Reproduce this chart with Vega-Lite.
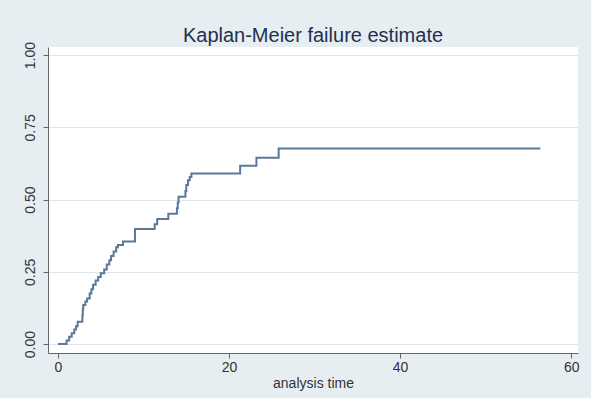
{
  "$schema": "https://vega.github.io/schema/vega-lite/v6.json",
  "autosize": {"type": "none"},
  "width": 530,
  "height": 306,
  "padding": {"left": 48, "top": 47, "right": 13, "bottom": 45},
  "background": "#e7eef2",
  "config": {
    "view": {"fill": "white", "stroke": null},
    "font": "Liberation Sans"
  },
  "title": {
    "text": "Kaplan-Meier failure estimate",
    "fontSize": 20,
    "fontWeight": "normal",
    "color": "#1e3050",
    "font": "Liberation Sans",
    "anchor": "middle",
    "offset": -5
  },
  "data": {
    "values": [
      {"t": 0, "F": 0},
      {"t": 1.0, "F": 0.012},
      {"t": 1.3, "F": 0.025},
      {"t": 1.6, "F": 0.037},
      {"t": 1.9, "F": 0.05},
      {"t": 2.1, "F": 0.062},
      {"t": 2.3, "F": 0.077},
      {"t": 2.85, "F": 0.1},
      {"t": 2.9, "F": 0.12},
      {"t": 2.95, "F": 0.135},
      {"t": 3.2, "F": 0.147},
      {"t": 3.4, "F": 0.158},
      {"t": 3.7, "F": 0.175},
      {"t": 3.9, "F": 0.19},
      {"t": 4.1, "F": 0.205},
      {"t": 4.4, "F": 0.22},
      {"t": 4.7, "F": 0.232},
      {"t": 5.0, "F": 0.245},
      {"t": 5.4, "F": 0.258},
      {"t": 5.7, "F": 0.275},
      {"t": 6.0, "F": 0.29},
      {"t": 6.2, "F": 0.305},
      {"t": 6.5, "F": 0.32},
      {"t": 6.8, "F": 0.335},
      {"t": 7.0, "F": 0.343},
      {"t": 7.6, "F": 0.355},
      {"t": 9.0, "F": 0.398},
      {"t": 11.3, "F": 0.415},
      {"t": 11.6, "F": 0.433},
      {"t": 12.9, "F": 0.451},
      {"t": 13.9, "F": 0.47},
      {"t": 14.0, "F": 0.49},
      {"t": 14.1, "F": 0.51},
      {"t": 14.9, "F": 0.53},
      {"t": 15.0, "F": 0.55},
      {"t": 15.2, "F": 0.567},
      {"t": 15.4, "F": 0.578},
      {"t": 15.6, "F": 0.59},
      {"t": 21.3, "F": 0.617},
      {"t": 23.2, "F": 0.645},
      {"t": 25.8, "F": 0.677},
      {"t": 56.4, "F": 0.677}
    ]
  },
  "mark": {"type": "line", "interpolate": "step-after", "color": "#5a7897", "strokeWidth": 2},
  "encoding": {
    "x": {
      "field": "t",
      "type": "quantitative",
      "scale": {"domain": [-1.17, 60.8], "nice": false, "zero": false},
      "axis": {
        "title": "analysis time",
        "values": [0, 20, 40, 60],
        "grid": false,
        "domainColor": "#666666",
        "tickColor": "#666666",
        "tickSize": 5,
        "labelFontSize": 14,
        "labelColor": "#333333",
        "labelPadding": 2,
        "labelFlush": false,
        "titleFontSize": 14,
        "titleFontWeight": "normal",
        "titleColor": "#333333",
        "titlePadding": 2
      }
    },
    "y": {
      "field": "F",
      "type": "quantitative",
      "scale": {"domain": [-0.031, 1.028], "nice": false, "zero": false},
      "axis": {
        "title": null,
        "values": [0, 0.25, 0.5, 0.75, 1],
        "format": ".2f",
        "grid": true,
        "gridColor": "#dde5eb",
        "gridWidth": 1,
        "domainColor": "#666666",
        "tickColor": "#666666",
        "tickSize": 5,
        "labelFontSize": 14,
        "labelColor": "#333333",
        "labelAngle": 270,
        "labelAlign": "center",
        "labelBaseline": "bottom",
        "labelPadding": 6,
        "labelFlush": false
      }
    }
  }
}
